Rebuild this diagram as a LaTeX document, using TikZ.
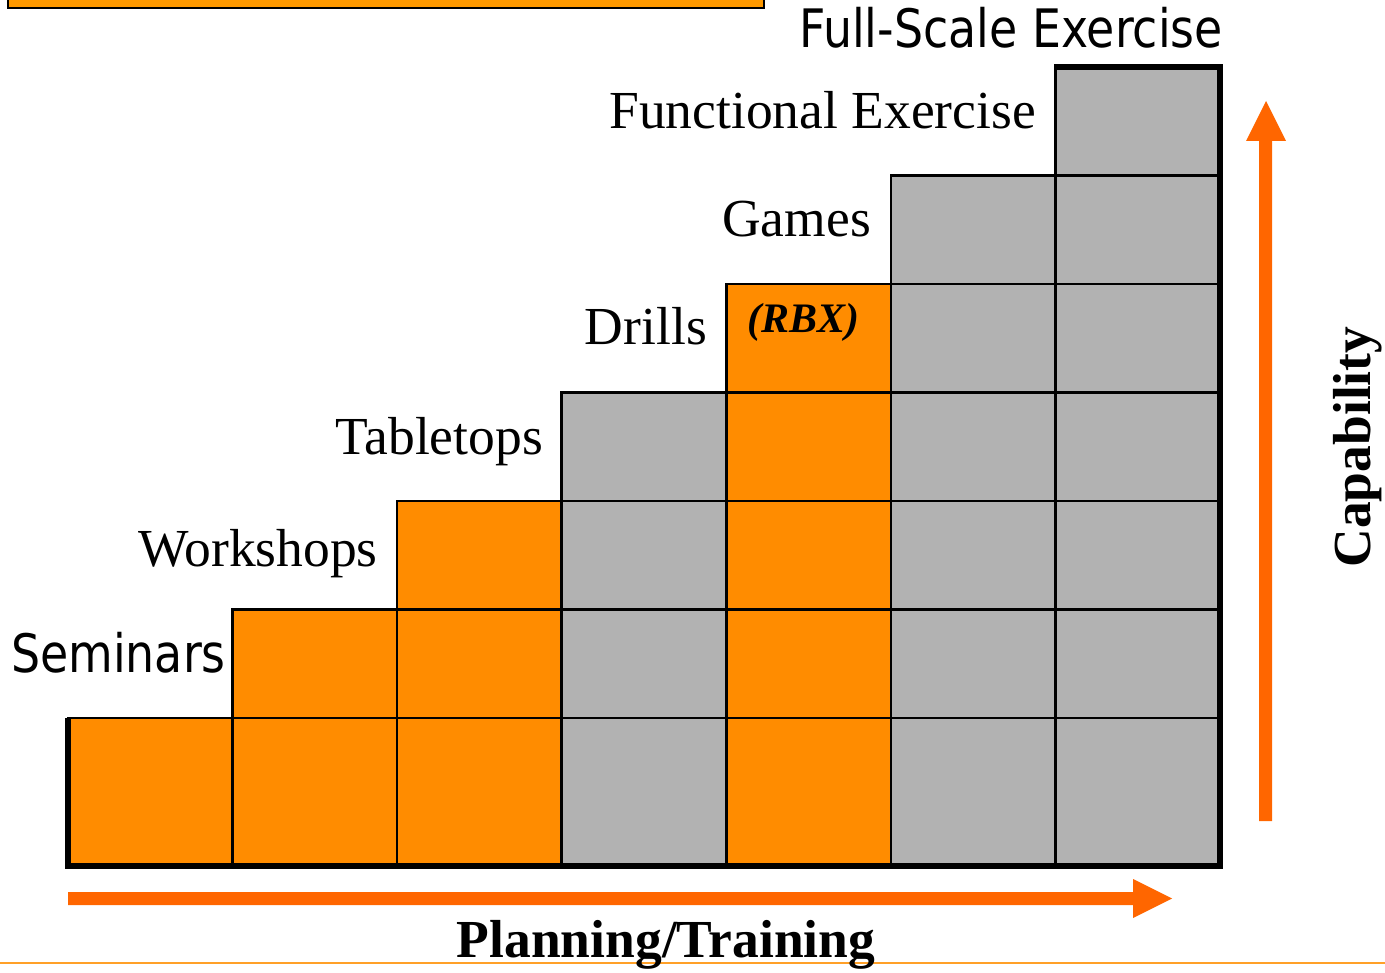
\documentclass[tikz,border=0pt]{standalone}
\usepackage{fontspec}
\setmainfont{Liberation Serif}
\newfontfamily\labelsans[FakeStretch=0.865]{DejaVu Sans}
\definecolor{cellorange}{RGB}{255,140,0}
\definecolor{cellgray}{RGB}{178,178,178}
\definecolor{axisorange}{RGB}{255,102,0}
\definecolor{bannerorange}{RGB}{255,153,0}
\definecolor{ruleorange}{RGB}{255,160,40}
\begin{document}
\begin{tikzpicture}[x=1pt,y=-1pt,
  cell/.style={draw=black,line width=2.5pt},
  steplabel/.style={anchor=base east,inner sep=0pt,font=\fontsize{53.5}{60}\selectfont},
  sanslabel/.style={anchor=base east,inner sep=0pt,font=\labelsans\fontsize{53}{60}\selectfont},
  axislabel/.style={anchor=base,inner sep=0pt,font=\bfseries\fontsize{53.5}{60}\selectfont}]
\useasboundingbox (0,0) rectangle (1385,973);

% banner strip running off the top edge
\begin{scope}
  \clip (0,0) rectangle (1385,973);
  \fill[bannerorange,draw=black,line width=2.5pt] (8,-30) rectangle (764,8);
\end{scope}

% footer rule
\draw[ruleorange,line width=2pt] (0,963) -- (1385,963);

% staircase of cells, one column per step
\foreach \c/\fc in {0/cellorange,1/cellorange,2/cellorange,3/cellgray,4/cellorange,5/cellgray,6/cellgray}{
  \pgfmathsetmacro\xl{68+\c*164.571}
  \pgfmathsetmacro\xr{68+(\c+1)*164.571}
  \draw[cell,fill=\fc] (\xl,866) rectangle (\xr,718);
  \ifnum\c>0
    \foreach \r in {1,...,\c}{
      \pgfmathsetmacro\yb{718-(\r-1)*108.5}
      \pgfmathsetmacro\yt{718-\r*108.5}
      \draw[cell,fill=\fc] (\xl,\yb) rectangle (\xr,\yt);
    }
  \fi
}

% heavy outline of the staircase
\draw[line width=6pt,line join=miter] (68,718) -- (68,866) -- (1220,866) -- (1220,67) -- (1054,67);

% axis arrows
\fill[axisorange] (68,892) -- (1133,892) -- (1133,879) -- (1172,898.5) -- (1133,918) -- (1133,905) -- (68,905) -- cycle;
\fill[axisorange] (1259,821) -- (1259,141) -- (1246,141) -- (1266,101) -- (1286,141) -- (1272,141) -- (1272,821) -- cycle;

% step labels
\node[sanslabel] (seminars) at (226,672) {Seminars};
\node[steplabel] (workshops) at (378,566) {Workshops};
\node[steplabel] (tabletops) at (543,455) {Tabletops};
\node[steplabel] (drills) at (707,345) {Drills};
\node[steplabel] (games) at (871,237) {Games};
\node[steplabel] (functional) at (1036,129) {Functional Exercise};
\node[sanslabel] (fullscale) at (1223,48) {Full-Scale Exercise};

\node[anchor=base west,inner sep=0pt,font=\bfseries\itshape\fontsize{42}{48}\selectfont] (rbx) at (747,333) {(RBX)};

% axis titles
\node[axislabel] (planning) at (666,957) {Planning/Training};
\node[axislabel,rotate=90] (capability) at (1370,447) {Capability};
\end{tikzpicture}
\end{document}
